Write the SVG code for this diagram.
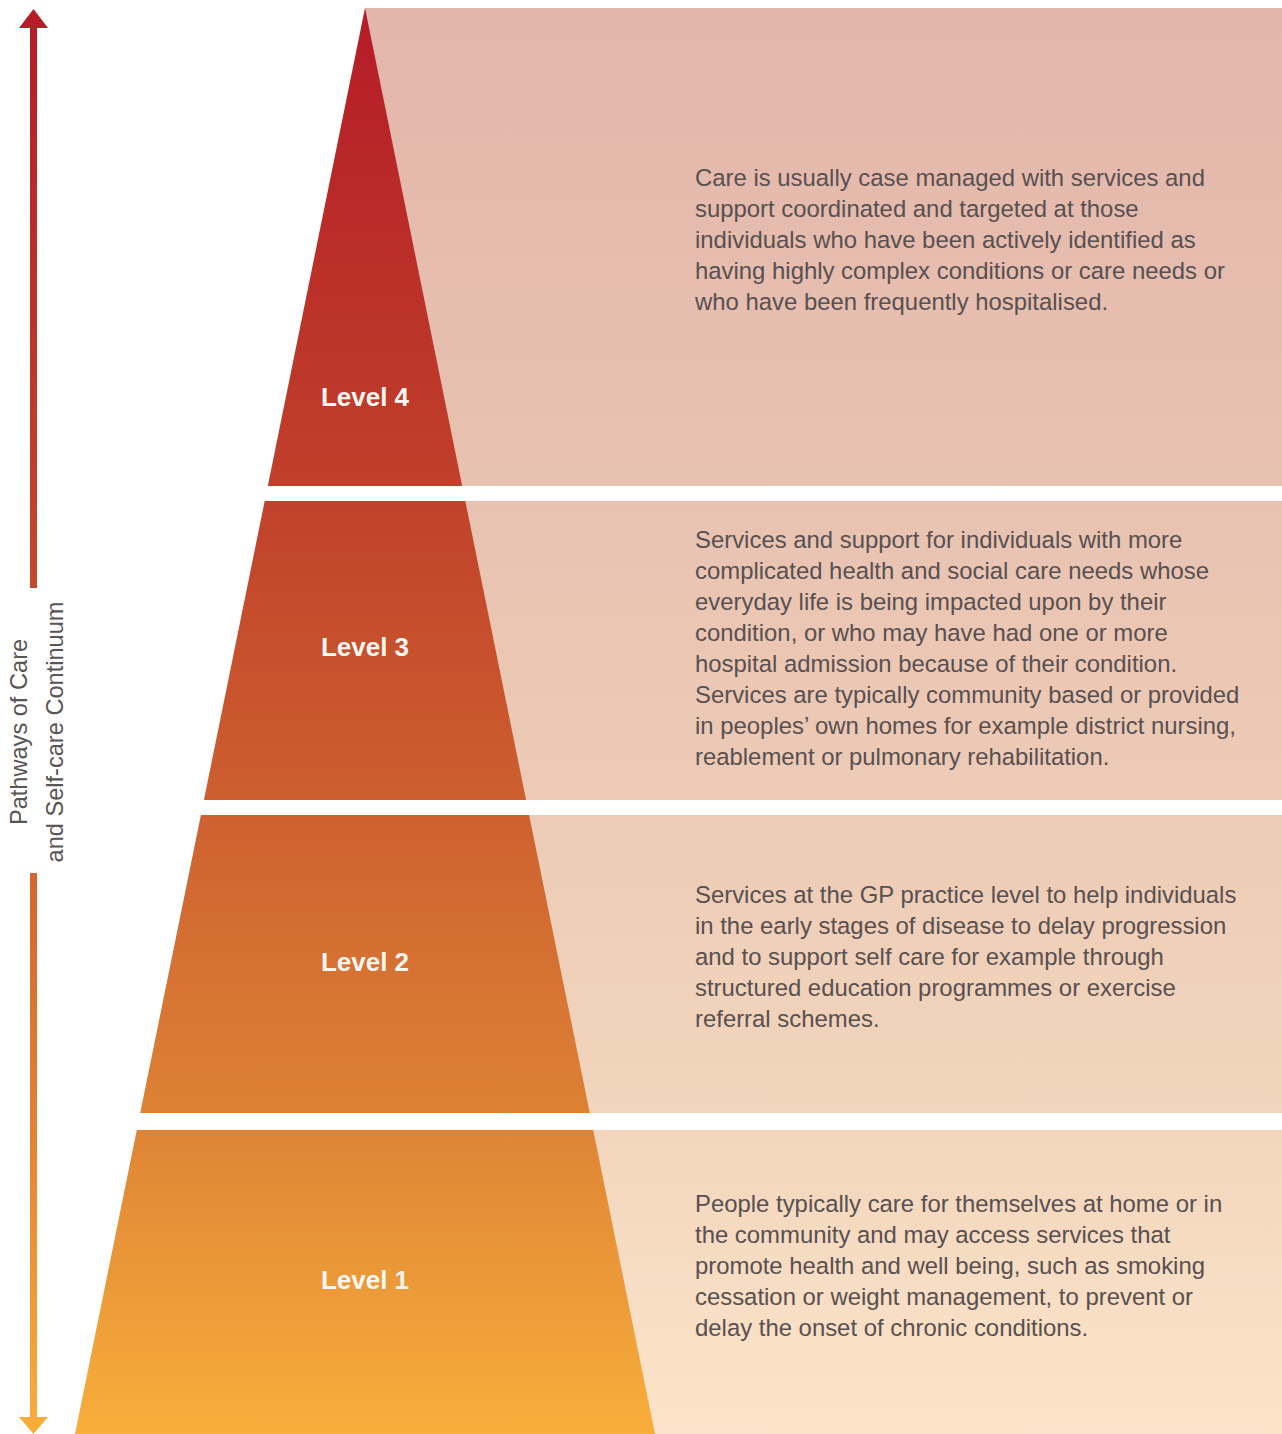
<svg xmlns="http://www.w3.org/2000/svg" width="1282" height="1434" viewBox="0 0 1282 1434">
  <defs>
    <!-- warm red-to-amber ramp shared by the pyramid and the side arrow -->
    <linearGradient id="warm" gradientUnits="userSpaceOnUse" x1="0" y1="8" x2="0" y2="1434">
      <stop offset="0" stop-color="#b51c28"/>
      <stop offset="0.335" stop-color="#c0402a"/>
      <stop offset="0.555" stop-color="#cd5f2f"/>
      <stop offset="0.775" stop-color="#dd8235"/>
      <stop offset="1" stop-color="#f8ae3b"/>
    </linearGradient>
    <!-- pale backdrop behind the descriptions -->
    <linearGradient id="pale" gradientUnits="userSpaceOnUse" x1="0" y1="8" x2="0" y2="1434">
      <stop offset="0" stop-color="#e3b6ab"/>
      <stop offset="0.335" stop-color="#e8c2b1"/>
      <stop offset="0.555" stop-color="#edcbb6"/>
      <stop offset="0.775" stop-color="#f2d5bc"/>
      <stop offset="1" stop-color="#fbe4c9"/>
    </linearGradient>
  </defs>
  <style>
    .band { fill: url(#pale); }
    .tier { fill: url(#warm); }
    .lvl { font-family: "Liberation Sans", Arial, sans-serif; font-weight: bold; font-size: 26px; fill: #fbf6f1; text-anchor: middle; }
    .desc { font-family: "Liberation Sans", Arial, sans-serif; font-size: 23.9px; fill: #585050; }
    .axis { font-family: "Liberation Sans", Arial, sans-serif; font-size: 23.6px; fill: #5a5454; text-anchor: middle; }
    .shaft { fill: url(#warm); }
  </style>

  <rect width="1282" height="1434" fill="#ffffff"/>

  <!-- Level 4 -->
  <g id="level4">
    <rect class="band" x="365" y="8" width="917" height="478"/>
    <polygon class="tier" points="365,8 462.2,486 267.8,486"/>
    <text class="lvl" x="365" y="406">Level 4</text>
    <text class="desc">
      <tspan x="695" y="186">Care is usually case managed with services and</tspan>
      <tspan x="695" y="217">support coordinated and targeted at those</tspan>
      <tspan x="695" y="248">individuals who have been actively identified as</tspan>
      <tspan x="695" y="279">having highly complex conditions or care needs or</tspan>
      <tspan x="695" y="310">who have been frequently hospitalised.</tspan>
    </text>
  </g>

  <!-- Level 3 -->
  <g id="level3">
    <rect class="band" x="365" y="501" width="917" height="299"/>
    <polygon class="tier" points="264.7,501 465.3,501 526.1,800 203.9,800"/>
    <text class="lvl" x="365" y="656">Level 3</text>
    <text class="desc">
      <tspan x="695" y="548">Services and support for individuals with more</tspan>
      <tspan x="695" y="579">complicated health and social care needs whose</tspan>
      <tspan x="695" y="610">everyday life is being impacted upon by their</tspan>
      <tspan x="695" y="641">condition, or who may have had one or more</tspan>
      <tspan x="695" y="672">hospital admission because of their condition.</tspan>
      <tspan x="695" y="703">Services are typically community based or provided</tspan>
      <tspan x="695" y="734">in peoples’ own homes for example district nursing,</tspan>
      <tspan x="695" y="765">reablement or pulmonary rehabilitation.</tspan>
    </text>
  </g>

  <!-- Level 2 -->
  <g id="level2">
    <rect class="band" x="365" y="815" width="917" height="298"/>
    <polygon class="tier" points="200.9,815 529.1,815 589.8,1113 140.2,1113"/>
    <text class="lvl" x="365" y="971">Level 2</text>
    <text class="desc">
      <tspan x="695" y="903">Services at the GP practice level to help individuals</tspan>
      <tspan x="695" y="934">in the early stages of disease to delay progression</tspan>
      <tspan x="695" y="965">and to support self care for example through</tspan>
      <tspan x="695" y="996">structured education programmes or exercise</tspan>
      <tspan x="695" y="1027">referral schemes.</tspan>
    </text>
  </g>

  <!-- Level 1 -->
  <g id="level1">
    <rect class="band" x="365" y="1130" width="917" height="304"/>
    <polygon class="tier" points="136.8,1130 593.2,1130 655,1434 75,1434"/>
    <text class="lvl" x="365" y="1289">Level 1</text>
    <text class="desc">
      <tspan x="695" y="1212">People typically care for themselves at home or in</tspan>
      <tspan x="695" y="1243">the community and may access services that</tspan>
      <tspan x="695" y="1274">promote health and well being, such as smoking</tspan>
      <tspan x="695" y="1305">cessation or weight management, to prevent or</tspan>
      <tspan x="695" y="1336">delay the onset of chronic conditions.</tspan>
    </text>
  </g>

  <!-- Continuum axis: double-headed arrow split around its caption -->
  <g id="connectors">
    <polygon class="shaft" points="33.5,9 48,28 19,28"/>
    <rect class="shaft" x="30" y="27" width="7" height="561"/>
    <rect class="shaft" x="30" y="873" width="7" height="545"/>
    <polygon class="shaft" points="19,1417 48,1417 33.5,1434"/>
  </g>

  <g id="axis-label">
    <text class="axis" transform="translate(27,732) rotate(-90)">Pathways of Care</text>
    <text class="axis" transform="translate(63,732) rotate(-90)">and Self-care Continuum</text>
  </g>
</svg>
